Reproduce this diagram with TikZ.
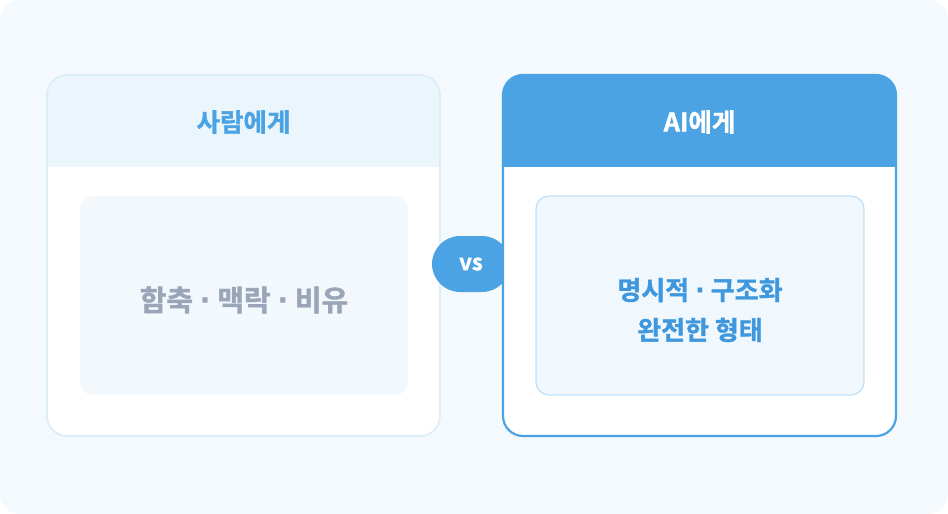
\documentclass[tikz,border=0pt]{standalone}
\usepackage{fontspec}
\newfontfamily\kr{Noto Sans CJK KR}[BoldFont={Noto Sans CJK KR Bold}, BoldFeatures={FakeBold=1.3}]
\newfontfamily\lat{DejaVu Sans}
\newcommand\mdot{{\lat\bfseries ·}}
\definecolor{bgblue}{HTML}{F4F9FD}
\definecolor{accent}{HTML}{4BA3E3}
\definecolor{paleline}{HTML}{DCEDF8}
\definecolor{palehead}{HTML}{EAF5FC}
\definecolor{paleinner}{HTML}{F3F8FD}
\definecolor{aiinner}{HTML}{F0F8FE}
\definecolor{aiedge}{HTML}{C3E1F7}
\definecolor{mutedtext}{HTML}{9AA5B8}
\definecolor{aitext}{HTML}{3F98DD}
\begin{document}
\begin{tikzpicture}[x=1pt, y=-1pt,
    card/.style={rounded corners=20pt, line width=1.6pt},
    title/.style={font=\kr\bfseries\fontsize{25.5pt}{29pt}\selectfont},
    body/.style={font=\kr\bfseries\fontsize{26pt}{40pt}\selectfont, align=center}]
    \useasboundingbox (0,0) rectangle (948,514);
    \fill[bgblue, rounded corners=20pt] (0,0) rectangle (948,514);
    % left card
    \fill[white, card] (47,75) rectangle (440,436);
    \begin{scope}
        \clip[rounded corners=20pt] (47,75) rectangle (440,436);
        \fill[palehead] (47,75) rectangle (440,167);
    \end{scope}
    \draw[paleline, card] (47,75) rectangle (440,436);
    \fill[paleinner, rounded corners=13pt] (80,196) rectangle (408,395);
    \node[title, accent] (humanTitle) at (243.5,122) {사람에게};
    \node[body, mutedtext, font=\kr\bfseries\fontsize{29pt}{34pt}\selectfont] (humanText) at (244,300) {함축 \mdot{} 맥락 \mdot{} 비유};
    % vs badge
    \node[fill=accent, rounded corners=28pt, minimum width=78pt, minimum height=56pt,
        font=\kr\bfseries\fontsize{22pt}{24pt}\selectfont, text=white] (vs) at (471,264) {vs};
    % right card
    \fill[white, card] (503,75) rectangle (896,436);
    \begin{scope}
        \clip[rounded corners=20pt] (503,75) rectangle (896,436);
        \fill[accent] (503,75) rectangle (896,167);
    \end{scope}
    \draw[accent, card, line width=2.2pt] (503,75) rectangle (896,436);
    \draw[aiedge, fill=aiinner, rounded corners=13pt, line width=1.4pt] (536,196) rectangle (864,395);
    \node[title, white] (aiTitle) at (699.5,122) {AI에게};
    \node[body, aitext] (aiText) at (700,310) {명시적 \mdot{} 구조화\\완전한 형태};
\end{tikzpicture}
\end{document}
